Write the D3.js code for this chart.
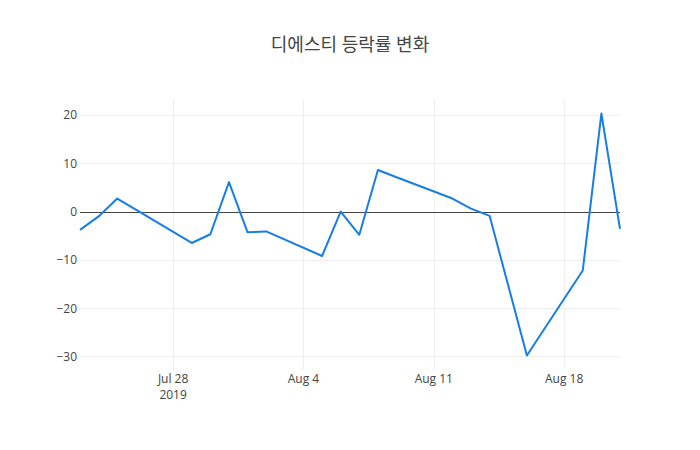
<html>
<head>
<meta charset="utf-8">
<script src="https://d3js.org/d3.v7.min.js"></script>
<style>
  body { margin: 0; background: #fff; }
  text { font-family: "Open Sans", "Noto Sans CJK KR", sans-serif; fill: #444; }
</style>
</head>
<body>
<svg id="chart" width="700" height="450"></svg>
<script>
// trading days and daily change rate (%)
var dates = ["2019-07-23","2019-07-24","2019-07-25","2019-07-26","2019-07-29","2019-07-30",
             "2019-07-31","2019-08-01","2019-08-02","2019-08-05","2019-08-06","2019-08-07",
             "2019-08-08","2019-08-09","2019-08-12","2019-08-13","2019-08-14","2019-08-16",
             "2019-08-19","2019-08-20","2019-08-21"]
var rates = [-3.8, -1.0, 2.7, 0.4, -6.5, -4.7,
             6.1, -4.3, -4.1, -9.2, 0.0, -4.8,
             8.6, 7.1, 2.7, 0.6, -0.9, -29.8,
             -12.2, 20.3, -3.6]
var yTicks = [-30, -20, -10, 0, 10, 20]
var xTicks = ["2019-07-28","2019-08-04","2019-08-11","2019-08-18"]
var title = "디에스티 등락률 변화"

const W = 700, H = 450
const m = {l: 80, r: 80, t: 100, b: 80}
const pw = W - m.l - m.r, ph = H - m.t - m.b

var parse = d3.timeParse("%Y-%m-%d")
var data = dates.map(function(d, i){ return {date: parse(d), v: rates[i]} })

var x = d3.scaleTime().domain(d3.extent(data, function(d){ return d.date })).range([0, pw])
var y = d3.scaleLinear().domain([-32.8, 23.1]).range([ph, 0])

var svg = d3.select("#chart")

svg.append("text")
  .attr("x", W/2).attr("y", 51)
  .attr("text-anchor", "middle")
  .style("font-size", "18px")
  .text(title)

var g = svg.append("g").attr("transform", "translate(" + m.l + "," + m.t + ")")

// grid lines
g.append("g").selectAll("line").data(xTicks.map(parse)).enter().append("line")
  .attr("x1", function(d){ return Math.round(x(d)) + 0.5 })
  .attr("x2", function(d){ return Math.round(x(d)) + 0.5 })
  .attr("y1", 0).attr("y2", ph)
  .style("stroke", "#eee").style("stroke-width", 1)

g.append("g").selectAll("line").data(yTicks.filter(function(d){ return d != 0 })).enter().append("line")
  .attr("x1", 0).attr("x2", pw)
  .attr("y1", function(d){ return Math.round(y(d)) + 0.5 })
  .attr("y2", function(d){ return Math.round(y(d)) + 0.5 })
  .style("stroke", "#eee").style("stroke-width", 1)

// zero line
g.append("line")
  .attr("x1", 0).attr("x2", pw)
  .attr("y1", Math.round(y(0)) + 0.5).attr("y2", Math.round(y(0)) + 0.5)
  .style("stroke", "#444").style("stroke-width", 1)

// y axis labels
var yAxis = d3.axisLeft(y).tickValues(yTicks).tickSize(0).tickPadding(3)
  .tickFormat(function(d){ return d < 0 ? "\u2212" + Math.abs(d) : d })
g.append("g").call(yAxis)
  .call(function(a){ a.select(".domain").remove() })
  .selectAll("text").style("font-size", "12px").style("fill", "#444")
  .style("font-family", "'Open Sans', sans-serif")

// x axis labels, year only under the first tick
var xg = g.append("g").attr("transform", "translate(0," + ph + ")")
xg.selectAll("text.day").data(xTicks.map(parse)).enter().append("text")
  .attr("class", "day")
  .attr("x", function(d){ return x(d) })
  .attr("y", 13)
  .attr("text-anchor", "middle")
  .style("font-size", "12px")
  .text(d3.timeFormat("%b %-d"))
xg.selectAll("text.year").data(xTicks.slice(0, 1).map(parse)).enter().append("text")
  .attr("class", "year")
  .attr("x", function(d){ return x(d) })
  .attr("y", 29)
  .attr("text-anchor", "middle")
  .style("font-size", "12px")
  .text(d3.timeFormat("%Y"))

// line
var line = d3.line()
  .x(function(d){ return x(d.date) })
  .y(function(d){ return y(d.v) })

g.append("path").datum(data)
  .attr("d", line)
  .style("fill", "none")
  .style("stroke", "#167ee6")
  .style("stroke-width", 2)
  .style("stroke-linejoin", "round")
</script>
</body>
</html>
